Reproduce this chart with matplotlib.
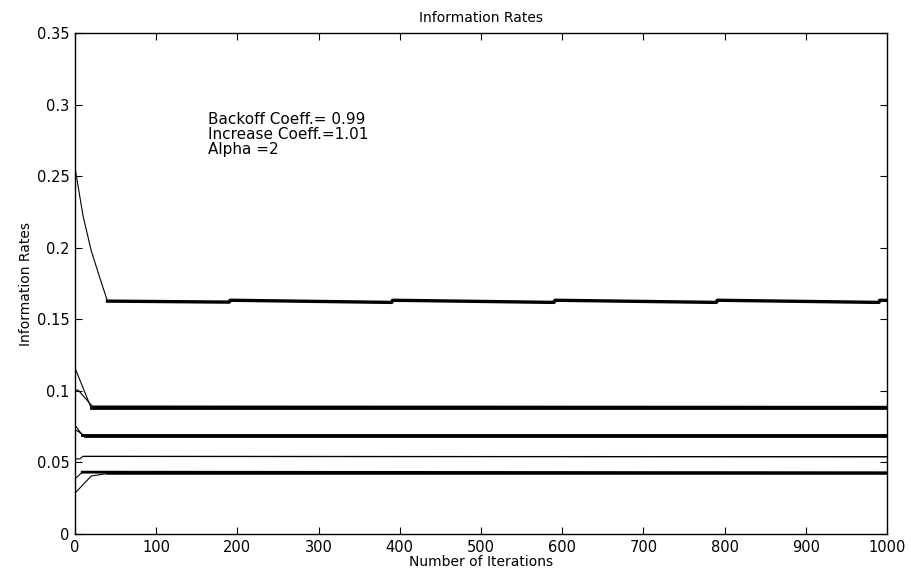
import numpy as np
import matplotlib
matplotlib.use('Agg')
import matplotlib.pyplot as plt

plt.rcParams['font.family'] = ['DejaVu Sans']

# Curvas (iteracion, tasa)
it_a = [0, 10, 20, 30, 40, 190, 191, 390, 391, 590, 591, 790, 791, 990, 991, 1000]
rate_a = [0.256, 0.222, 0.198, 0.180, 0.1627, 0.1620, 0.1633, 0.1618, 0.1633, 0.1618,
          0.1633, 0.1618, 0.1633, 0.1618, 0.1633, 0.1632]

it_b1 = [0, 20, 1000]
rate_b1 = [0.116, 0.0880, 0.0880]
it_b2 = [0, 4, 22, 1000]
rate_b2 = [0.1005, 0.1005, 0.0888, 0.0886]

it_c1 = [0, 9, 1000]
rate_c1 = [0.076, 0.0692, 0.0692]
it_c2 = [0, 3, 12, 1000]
rate_c2 = [0.0725, 0.0720, 0.0686, 0.0686]

it_d = [0, 6, 10, 1000]
rate_d = [0.0525, 0.0525, 0.0542, 0.0540]

it_e1 = [0, 9, 1000]
rate_e1 = [0.0385, 0.0432, 0.0428]
it_e2 = [0, 20, 40, 1000]
rate_e2 = [0.0285, 0.0405, 0.0423, 0.0423]

xticks = [0, 100, 200, 300, 400, 500, 600, 700, 800, 900, 1000]
yticks = [0, 0.05, 0.1, 0.15, 0.2, 0.25, 0.3, 0.35]
ytick_labels = ['0', '0.05', '0.1', '0.15', '0.2', '0.25', '0.3', '0.35']

fig = plt.figure(figsize=(9.11, 5.75), dpi=100)
ax = fig.add_axes([0.0823, 0.0713, 0.8914, 0.8713])

# (x, y, indice donde empieza el regimen oscilante, grosor de la banda)
curvas = [(it_a, rate_a, 4, 2.4), (it_b1, rate_b1, 1, 2.0), (it_b2, rate_b2, 2, 2.0),
          (it_c1, rate_c1, 1, 2.0), (it_c2, rate_c2, 2, 2.0), (it_d, rate_d, 2, 0.9),
          (it_e1, rate_e1, 1, 2.0), (it_e2, rate_e2, 2, 1.8)]
for x, y, k, lw in curvas:
    ax.plot(x, y, color='k', lw=0.8)
    ax.plot(x[k:], y[k:], color='k', lw=lw)

ax.set_xlim(0, 1000)
ax.set_ylim(0, 0.35)
ax.set_xticks(xticks)
ax.set_yticks(yticks)
ax.set_yticklabels(ytick_labels)
ax.tick_params(direction='in', top=True, right=True, length=5, width=0.8,
               labelsize=10.5, pad=4)
for s in ax.spines.values():
    s.set_linewidth(1.0)

ax.set_title('Information Rates', fontsize=10, pad=8)
ax.set_xlabel('Number of Iterations', fontsize=10, labelpad=0)
ax.set_ylabel('Information Rates', fontsize=10, labelpad=3)

ax.text(164, 0.279, 'Backoff Coeff.= 0.99\nIncrease Coeff.=1.01\nAlpha =2',
        fontsize=11, va='center', ha='left', linespacing=1.0)

fig.savefig('out.png', dpi=100)
